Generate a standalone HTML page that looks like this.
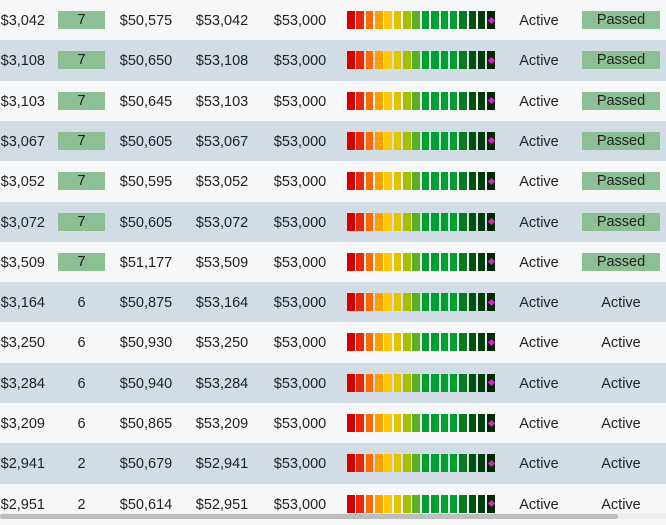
<!DOCTYPE html>
<html><head><meta charset="utf-8"><style>
body{margin:0;width:666px;height:519px;overflow:hidden;background:#f5f7f9;font-family:"Liberation Sans",sans-serif;font-size:14.5px;color:#222;position:relative}
.row{position:absolute;left:0;width:666px;height:40.3px}
.c{position:absolute;top:1px;height:40.3px;line-height:40.3px;white-space:nowrap}
.badge{position:absolute;top:11px;height:18px;line-height:19px;background:#8cbf94;text-align:center;color:#222}
.gauge{position:absolute;left:347px;top:11px;height:18px;width:150px}
.seg{position:absolute;top:0;height:18px;width:7.5px}
.dia{position:absolute;width:5px;height:5px;background:#e020d0;transform:rotate(45deg)}
</style></head><body>
<div id="rows"></div>
<div style="position:absolute;left:0;top:513px;width:666px;height:6px;background:#eee"></div>
<div style="position:absolute;left:0;top:514px;width:618px;height:5px;background:#bdbdbd;border-radius:3px"></div>
<script>
const col1=["$3,042","$3,108","$3,103","$3,067","$3,052","$3,072","$3,509","$3,164","$3,250","$3,284","$3,209","$2,941","$2,951"];
const counts=[7,7,7,7,7,7,7,6,6,6,6,2,2];
const col3=["$50,575","$50,650","$50,645","$50,605","$50,595","$50,605","$51,177","$50,875","$50,930","$50,940","$50,865","$50,679","$50,614"];
const col4=["$53,042","$53,108","$53,103","$53,067","$53,052","$53,072","$53,509","$53,164","$53,250","$53,284","$53,209","$52,941","$52,951"];
const col5=["$53,000","$53,000","$53,000","$53,000","$53,000","$53,000","$53,000","$53,000","$53,000","$53,000","$53,000","$53,000","$53,000"];
const status=["Active","Active","Active","Active","Active","Active","Active","Active","Active","Active","Active","Active","Active"];
const result=["Passed","Passed","Passed","Passed","Passed","Passed","Passed","Active","Active","Active","Active","Active","Active"];
const segColors=["#d40000","#e82808","#ff6a00","#ffa000","#ffc800","#e0c400","#a8be00","#5aae28","#00a030","#00a030","#00a030","#00a030","#0a7a20","#005010","#003c08","#002800"];
const host=document.getElementById('rows');
function cell(parent,left,width,align,text){
  const d=document.createElement('div');d.className='c';
  d.style.left=left+'px';d.style.width=width+'px';d.style.textAlign=align;d.textContent=text;
  parent.appendChild(d);return d;
}
col1.forEach((v,i)=>{
  const r=document.createElement('div');r.className='row';
  
  
  r.style.top=(i*40.3)+'px';r.style.background=i%2?'#d2dce4':'#f5f7f9';
  let c=cell(r,-20,65,'right',v);
  
  
  if(counts[i]>=7){
    const b=document.createElement('div');b.className='badge';
    
    
    b.style.left='58px';b.style.width='47px';b.textContent=counts[i];r.appendChild(b);
  } else {
    c=cell(r,58,47,'center',String(counts[i]));
    
    
  }
  c=cell(r,106,80,'center',col3[i]);
  
  
  c=cell(r,182,80,'center',col4[i]);
  
  
  c=cell(r,260,80,'center',col5[i]);
  
  
  const g=document.createElement('div');g.className='gauge';
  
  
  segColors.forEach((col,k)=>{
    const s=document.createElement('div');s.className='seg';
    
    
    s.style.left=(k*9.35)+'px';s.style.background=col;g.appendChild(s);
  });
  const dm=document.createElement('div');dm.className='dia';
  
  
  dm.style.left='141.5px';dm.style.top='6.5px';g.appendChild(dm);
  r.appendChild(g);
  c=cell(r,500,78,'center',status[i]);
  
  
  if(result[i]==='Passed'){
    const b=document.createElement('div');b.className='badge';
    
    
    b.style.left='582px';b.style.width='78px';b.textContent='Passed';r.appendChild(b);
  } else {
    c=cell(r,582,78,'center',result[i]);
    
    
  }
  host.appendChild(r);
});
</script>
</body></html>
